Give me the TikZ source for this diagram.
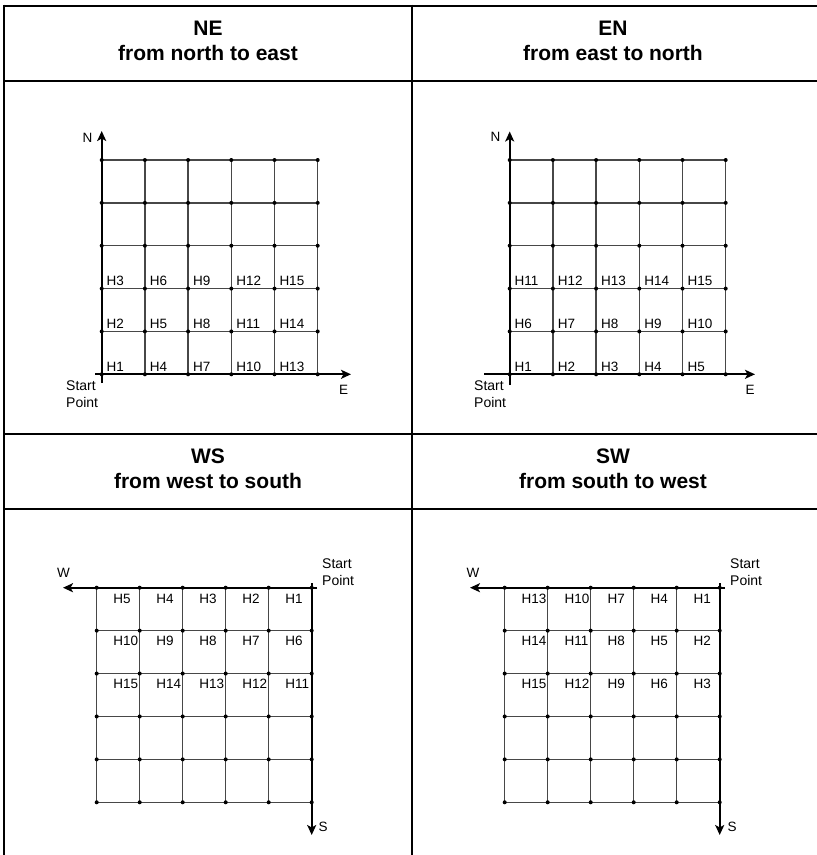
\documentclass[tikz,border=0pt]{standalone}
\usepackage{fontspec}
\setmainfont{Liberation Sans}
\usetikzlibrary{arrows.meta}
\begin{document}
\begin{tikzpicture}[x=1pt,y=-1pt,
  border/.style={line width=2pt,black},
  gridline/.style={line width=1.3pt,black!72},
  axis/.style={line width=2pt,black,-{Stealth[length=10pt,width=9pt,inset=2.5pt]}},
  hlab/.style={inner sep=0pt,font=\fontsize{13.5}{16}\selectfont},
  axlab/.style={inner sep=0pt,font=\fontsize{13.5}{16}\selectfont},
  head/.style={inner sep=0pt,font=\fontsize{21}{25}\selectfont\bfseries},
  startlab/.style={inner sep=0pt,anchor=base west,font=\fontsize{14}{17.5}\selectfont}]
\useasboundingbox (0,0) rectangle (817,855);

% table frame
\draw[border] (4,4.5) -- (4,855);
\draw[border] (412,4.5) -- (412,855);
\draw[border] (3,5.5) -- (817,5.5);
\draw[border] (3,81) -- (817,81);
\draw[border] (3,433.5) -- (817,433.5);
\draw[border] (3,508.5) -- (817,508.5);

% headers
\node[head,anchor=base] (h1a) at (208,35) {NE};
\node[head,anchor=base] (h1b) at (208,60) {from north to east};
\node[head,anchor=base] (h2a) at (613,35) {EN};
\node[head,anchor=base] (h2b) at (613,60) {from east to north};
\node[head,anchor=base] (h3a) at (208,463) {WS};
\node[head,anchor=base] (h3b) at (208,488) {from west to south};
\node[head,anchor=base] (h4a) at (613,463) {SW};
\node[head,anchor=base] (h4b) at (613,488) {from south to west};

% grids, top panels
\foreach \s in {0,408} {
  \foreach \i in {0,...,5} {
    \draw[gridline] ({101.7+\s+43.2*\i},160) -- ({101.7+\s+43.2*\i},374.3);
    \draw[gridline] ({101.7+\s},{160+42.86*\i}) -- ({317.7+\s},{160+42.86*\i});
  }
}
% grids, bottom panels
\foreach \s in {0,408} {
  \foreach \i in {0,...,5} {
    \draw[gridline] ({96.7+\s+43*\i},587.7) -- ({96.7+\s+43*\i},802.3);
    \draw[gridline] ({96.7+\s},{587.7+42.92*\i}) -- ({311.7+\s},{587.7+42.92*\i});
  }
}

% axes
\coordinate (n1s) at (101.7,383);   \coordinate (n1e) at (101.7,131);
\coordinate (e1s) at (95,374.3);    \coordinate (e1e) at (351,374.3);
\coordinate (n2s) at (509.7,385);   \coordinate (n2e) at (509.7,131.5);
\coordinate (e2s) at (484,374.3);   \coordinate (e2e) at (755,374.3);
\coordinate (w3s) at (317,587.7);   \coordinate (w3e) at (63,587.7);
\coordinate (s3s) at (311.7,583);   \coordinate (s3e) at (311.7,835);
\coordinate (w4s) at (725,587.7);   \coordinate (w4e) at (470,587.7);
\coordinate (s4s) at (719.7,583);   \coordinate (s4e) at (719.7,835);
\draw[axis] (n1s) -- (n1e);
\draw[axis] (e1s) -- (e1e);
\draw[axis] (n2s) -- (n2e);
\draw[axis] (e2s) -- (e2e);
\draw[axis] (w3s) -- (w3e);
\draw[axis] (s3s) -- (s3e);
\draw[axis] (w4s) -- (w4e);
\draw[axis] (s4s) -- (s4e);

% dots
\foreach \s in {0,408} {
  \foreach \i in {0,...,5} {
    \foreach \j in {0,...,5} {
      \fill ({101.7+\s+43.2*\i},{160+42.86*\j}) circle[radius=2pt];
      \fill ({96.7+\s+43*\i},{587.7+42.92*\j}) circle[radius=2pt];
    }
  }
}

% cell labels
\foreach \i in {0,...,4} {
  \foreach \j in {0,1,2} {
    \pgfmathtruncatemacro\na{3*\i+\j+1}
    \pgfmathtruncatemacro\nb{5*\j+\i+1}
    \pgfmathtruncatemacro\nc{5*\j+(4-\i)+1}
    \pgfmathtruncatemacro\nd{3*(4-\i)+\j+1}
    \node[hlab,anchor=base west] (a\na) at ({106.5+43.2*\i},{371.1-42.86*\j}) {H\na};
    \node[hlab,anchor=base west] (b\nb) at ({514.5+43.2*\i},{371.1-42.86*\j}) {H\nb};
    \node[hlab,anchor=base west] (c\nc) at ({113.2+43*\i},{603+42.92*\j}) {H\nc};
    \node[hlab,anchor=base west] (d\nd) at ({521.5+43*\i},{603+42.92*\j}) {H\nd};
  }
}

% axis letters
\node[axlab] (N1) at (87.5,137.5) {N};
\node[axlab] (E1) at (343.5,390) {E};
\node[axlab] (N2) at (495.5,136.5) {N};
\node[axlab] (E2) at (750,390) {E};
\node[axlab] (W3) at (63.5,572.5) {W};
\node[axlab] (S3) at (323,826.7) {S};
\node[axlab] (W4) at (473,572.7) {W};
\node[axlab] (S4) at (732,826.7) {S};

% start point labels
\node[startlab] (st1) at (66,390) {Start};
\node[startlab] (pt1) at (66,407) {Point};
\node[startlab] (st2) at (474,390) {Start};
\node[startlab] (pt2) at (474,407) {Point};
\node[startlab] (st3) at (322,568.5) {Start};
\node[startlab] (pt3) at (322,585.5) {Point};
\node[startlab] (st4) at (730,568.5) {Start};
\node[startlab] (pt4) at (730,585.5) {Point};
\end{tikzpicture}
\end{document}
